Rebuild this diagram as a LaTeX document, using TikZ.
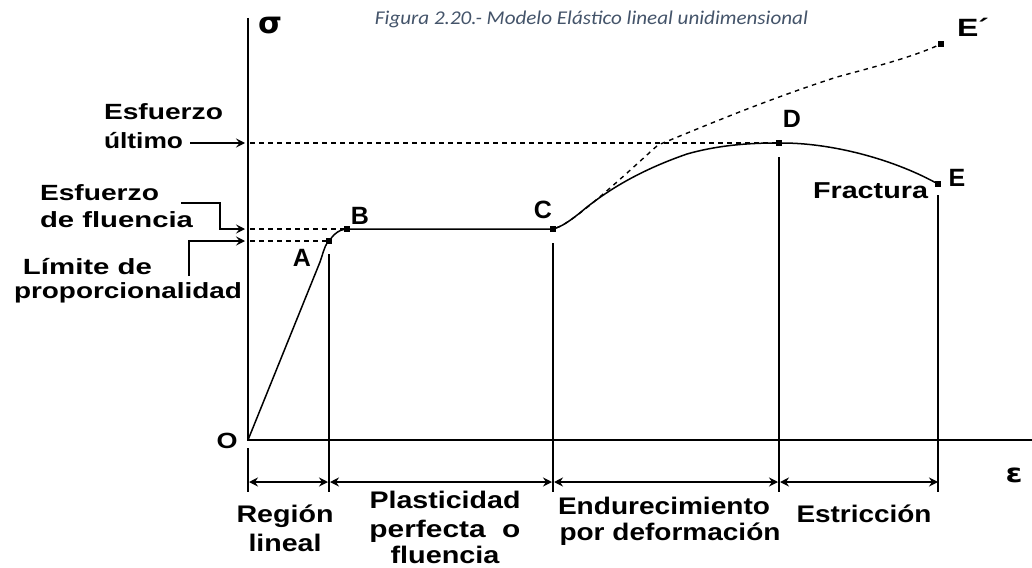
\documentclass[tikz,border=0pt]{standalone}
\usepackage{fontspec}
\usepackage{graphicx}
\setmainfont{Liberation Sans}
\newfontfamily\capfont{Carlito}
\newfontfamily\greekfont{DejaVu Sans}
\usetikzlibrary{arrows.meta}
\definecolor{capcol}{HTML}{44546A}
\newcommand{\fitw}[2]{\resizebox{#1pt}{\height}{#2}}
\tikzset{
  lbl/.style={inner sep=0pt,outer sep=0pt,font=\fontsize{22}{22}\selectfont\bfseries,text=black},
  lblw/.style={lbl,anchor=base west},
  lblc/.style={lbl,anchor=base,font=\fontsize{24}{24}\selectfont\bfseries},
  lett/.style={lbl,anchor=base,font=\fontsize{25}{25}\selectfont\bfseries},
  pt/.style={fill=black,draw=none,minimum size=6pt,inner sep=0pt,outer sep=0pt,rectangle},
  axisline/.style={line width=1.9pt,black},
  guide/.style={line width=1.4pt,black},
  curveline/.style={line width=1.5pt,black},
  dashline/.style={line width=1.4pt,black,dash pattern=on 4.5pt off 4.5pt},
  dimline/.style={line width=1.7pt,black,{Stealth[length=9pt,width=9pt,inset=3pt]}-{Stealth[length=9pt,width=9pt,inset=3pt]}},
  pointer/.style={line width=1.4pt,black,-{Stealth[length=9pt,width=9pt,inset=3.5pt]}}
}
\begin{document}
\begin{tikzpicture}[x=1pt,y=-1pt]
\useasboundingbox[fill=white] (0,0) rectangle (1032,567);
% curve points
\node[pt] (A) at (329,241) {};
\node[pt] (B) at (347,229) {};
\node[pt] (C) at (553,229) {};
\node[pt] (D) at (779,143) {};
\node[pt] (E) at (938,184) {};
\node[pt] (Ep) at (941,44) {};
\coordinate (O) at (248,440);
% axes
\coordinate (ytop) at (248,18);
\coordinate (xend) at (1032,440);
\draw[axisline] (ytop) -- (O) -- (xend);
\coordinate (o1) at (248,448); \coordinate (o2) at (248,492);
\draw[guide] (o1) -- (o2);
% drop lines
\coordinate (a1) at (329,254); \coordinate (a2) at (329,492);
\coordinate (c1) at (553,243); \coordinate (c2) at (553,492);
\coordinate (d1) at (779,157); \coordinate (d2) at (779,492);
\coordinate (e1) at (938,195); \coordinate (e2) at (938,492);
\draw[guide] (a1) -- (a2);
\draw[guide] (c1) -- (c2);
\draw[guide] (d1) -- (d2);
\draw[guide] (e1) -- (e2);
% stress-strain curve
\draw[curveline] (O) -- (320,262) .. controls (323,253) and (325,246) .. (A)
  .. controls (335,233) and (340,230) .. (B) -- (C)
  .. controls (565,225) and (575,217) .. (587,207)
  .. controls (605,193) and (635,172) .. (687,154)
  .. controls (715,146) and (745,143) .. (D)
  .. controls (830,143) and (890,158) .. (E);
% dashed true curve
\draw[dashline] (C) .. controls (575,222) and (630,170) .. (658,145)
  .. controls (700,128) and (760,102) .. (837,77)
  .. controls (870,68) and (910,58) .. (Ep);
% dashed guides
\coordinate (g1) at (250,143); \coordinate (g2) at (250,229); \coordinate (g3) at (250,241);
\draw[dashline] (g1) -- (D);
\draw[dashline] (g2) -- (B);
\draw[dashline] (g3) -- (A);
% pointers
\coordinate (u1) at (190,143); \coordinate (u2) at (245,143);
\draw[pointer] (u1) -- (u2);
\coordinate (f1) at (181,203); \coordinate (f2) at (220,203); \coordinate (f3) at (220,229); \coordinate (f4) at (245,229);
\draw[pointer] (f1) -- (f2) -- (f3) -- (f4);
\coordinate (l1) at (189,276); \coordinate (l2) at (189,241); \coordinate (l3) at (245,241);
\draw[pointer] (l1) -- (l2) -- (l3);
% dimension arrows
\coordinate (m0) at (249,482); \coordinate (m1) at (328,482); \coordinate (m2) at (330,482); \coordinate (m3) at (552,482);
\coordinate (m4) at (554,482); \coordinate (m5) at (778,482); \coordinate (m6) at (780,482); \coordinate (m7) at (938,482);
\draw[dimline] (m0) -- (m1);
\draw[dimline] (m2) -- (m3);
\draw[dimline] (m4) -- (m5);
\draw[dimline] (m6) -- (m7);
% caption
\node[inner sep=0pt,anchor=base,text=capcol,font=\capfont\itshape\fontsize{19.5}{20}\selectfont] (cap) at (591.5,25) {\resizebox{433pt}{\height}{Figura 2.20.- Modelo Elástico lineal unidimensional}};
% letter labels
\node[lett] (lsig) at (270,34) {\resizebox{24pt}{\height}{\greekfont\fontsize{30}{30}\selectfont σ}};
\node[lett] (lA) at (302,266) {A};
\node[lett] (lB) at (360,224) {B};
\node[lett] (lC) at (543,218) {C};
\node[lett] (lD) at (792,128) {D};
\node[lett] (lE) at (957,186) {E};
\node[lett] (lEp) at (973,37) {\fitw{32}{E´}};
\node[lett,font=\fontsize{22}{22}\selectfont\bfseries] (lO) at (227,448) {\fitw{21}{O}};
\node[lett] (leps) at (1014,482) {\resizebox{17pt}{\height}{\greekfont\fontsize{26}{26}\selectfont ε}};
% left labels
\node[lblw] (t1) at (104,120) {\fitw{119}{Esfuerzo}};
\node[lblw] (t2) at (104,148) {\fitw{79}{último}};
\node[lblw] (t3) at (40,200) {\fitw{119}{Esfuerzo}};
\node[lblw] (t4) at (40,227) {\fitw{153}{de fluencia}};
\node[lblw] (t5) at (23,274) {\fitw{129}{Límite de}};
\node[lblw] (t6) at (14,298) {\fitw{228}{proporcionalidad}};
\node[lblw,font=\fontsize{23}{23}\selectfont\bfseries] (t7) at (813,198) {\fitw{115}{Fractura}};
% bottom labels
\node[lblc] (b1) at (285,522) {\fitw{97}{Región}};
\node[lblc] (b2) at (285,551) {\fitw{73}{lineal}};
\node[lblc] (b3) at (445,508) {\fitw{151}{Plasticidad}};
\node[lblc] (b4) at (445,537) {\fitw{151}{perfecta\ \ o}};
\node[lblc] (b5) at (445,563) {\fitw{109}{fluencia}};
\node[lblc] (b6) at (664,514) {\fitw{212}{Endurecimiento}};
\node[lblc] (b7) at (670,540) {\fitw{221}{por deformación}};
\node[lblc] (b8) at (864,522) {\fitw{135}{Estricción}};
\end{tikzpicture}
\end{document}
